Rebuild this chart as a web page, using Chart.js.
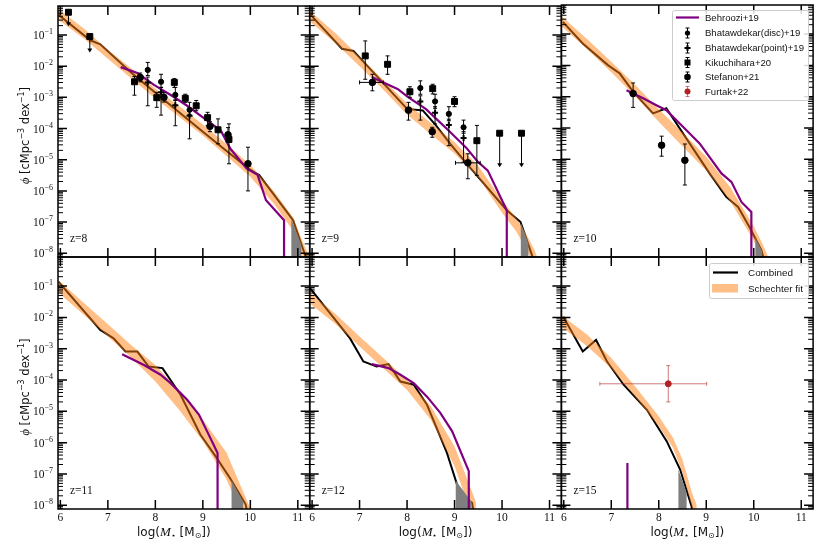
<!DOCTYPE html>
<html>
<head>
<meta charset="utf-8">
<script src="https://cdn.jsdelivr.net/npm/chart.js@4.4.1/dist/chart.umd.min.js"></script>
<style>
  html, body { margin: 0; padding: 0; background: #fff; }
  #wrap { position: relative; width: 822px; height: 548px; overflow: hidden; }
  #wrap canvas { position: absolute; left: 0; top: 0; }
</style>
</head>
<body>
<div id="wrap"></div>
<script>
/* stellar mass functions, z = 8 ... 15 — six panels, values as log10(phi) */

const X_TICKS = [6, 7, 8, 9, 10, 11];
const Y_EXPS = [-1, -2, -3, -4, -5, -6, -7, -8];
const Z_LABELS = ['z=8', 'z=9', 'z=10', 'z=11', 'z=12', 'z=15'];

// Combined: [logM, log phi]
const comb8 = [[5.96,-0.35],[6.63,-1.17],[6.84,-1.3],[7.5,-2.22],[8.0,-2.85],[8.5,-3.48],[9.0,-4.1],[9.5,-4.72],[9.98,-5.3],[10.19,-5.5],[10.9,-6.94],[11.14,-8.0],[11.25,-8.5]];
const comb9 = [[5.96,-0.34],[6.63,-1.44],[6.87,-1.51],[7.29,-2.2],[8.0,-3.37],[8.33,-3.42],[8.6,-3.88],[8.91,-4.49],[9.26,-5.13],[10.1,-6.62],[10.39,-7.0],[10.63,-8.06],[10.7,-8.4]];
const comb10 = [[5.98,-0.61],[6.4,-1.3],[6.93,-1.99],[7.18,-2.26],[7.46,-2.84],[7.88,-3.53],[8.16,-3.37],[8.51,-4.17],[9.07,-5.45],[9.42,-6.2],[9.67,-6.52],[9.91,-7.16],[10.16,-7.9],[10.25,-8.4]];
const comb11 = [[5.96,-0.86],[6.84,-2.4],[7.12,-2.67],[7.37,-3.09],[7.62,-3.09],[7.86,-3.57],[8.15,-3.62],[8.53,-4.47],[8.95,-5.75],[9.27,-6.44],[9.59,-7.18],[9.9,-7.97],[9.95,-8.3]];
const comb12 = [[5.96,-1.07],[6.8,-2.67],[7.08,-3.41],[7.36,-3.57],[7.61,-3.49],[7.86,-4.05],[8.14,-4.15],[8.42,-4.79],[8.84,-6.33],[9.12,-7.66],[9.37,-7.92],[9.42,-8.4]];
const comb15 = [[5.99,-1.98],[6.4,-3.09],[6.68,-2.72],[6.91,-3.41],[7.26,-4.15],[7.75,-4.95],[8.17,-5.96],[8.45,-6.86],[8.69,-8.03],[8.72,-8.3]];

// Schechter fit band: [logM, lower, upper]
const sch8 = [[5.95,-0.5,-0.16],[6.5,-1.12,-0.8],[7,-1.76,-1.47],[7.5,-2.4,-2.08],[8,-3.04,-2.72],[8.5,-3.62,-3.28],[9,-4.22,-3.87],[9.5,-4.88,-4.5],[10,-5.55,-5.17],[10.5,-6.42,-6.02],[10.9,-7.28,-6.85],[11.1,-8.1,-7.62],[11.3,-8.9,-8.3]];
const sch9 = [[5.95,-0.56,-0.22],[6.5,-1.27,-0.95],[7,-2.0,-1.7],[7.5,-2.76,-2.44],[8,-3.55,-3.2],[8.5,-4.18,-3.82],[9,-4.8,-4.44],[9.5,-5.57,-5.2],[10,-6.7,-6.3],[10.3,-7.3,-6.88],[10.5,-7.85,-7.35],[10.7,-8.5,-7.95],[10.8,-9,-8.4]];
const sch10 = [[5.95,-0.74,-0.42],[6.5,-1.49,-1.17],[7,-2.22,-1.88],[7.5,-2.98,-2.62],[8,-3.8,-3.4],[8.5,-4.58,-4.14],[9,-5.36,-4.92],[9.5,-6.32,-5.88],[10,-7.6,-7.14],[10.2,-8.25,-7.75],[10.3,-8.7,-8.1]];
const sch11 = [[5.95,-1.2,-0.8],[6.5,-1.92,-1.55],[7,-2.6,-2.22],[7.5,-3.3,-2.9],[8,-4.05,-3.52],[8.5,-4.95,-4.35],[9,-5.95,-5.27],[9.5,-7.18,-6.32],[9.9,-8.6,-7.75],[10,-9,-8.1]];
const sch12 = [[5.95,-1.55,-1.2],[6.5,-2.22,-1.9],[7,-2.93,-2.61],[7.5,-3.62,-3.3],[8,-4.32,-4.0],[8.5,-5.27,-4.84],[9,-6.75,-6.12],[9.3,-8.04,-7.3],[9.45,-8.9,-7.9]];
const sch15 = [[5.95,-2.3,-1.92],[6.5,-2.93,-2.56],[7,-3.62,-3.3],[7.5,-4.53,-4.2],[8,-5.48,-5.16],[8.3,-6.16,-5.84],[8.5,-6.96,-6.54],[8.7,-8.07,-7.6],[8.8,-8.7,-8.0]];

// Behroozi+19
const beh8 = [[7.27,-2.03],[7.62,-2.22],[7.97,-2.6],[8.35,-2.95],[8.67,-3.27],[9.05,-3.7],[9.38,-4.07],[9.58,-4.65],[9.92,-5.28],[10.15,-5.48],[10.33,-6.3],[10.71,-6.94],[10.71,-12]];
const beh9 = [[7.26,-2.35],[7.5,-2.52],[7.8,-2.73],[8.03,-3.0],[8.4,-3.38],[8.88,-4.07],[9.25,-4.62],[9.48,-5.05],[9.7,-5.35],[10.1,-6.62],[10.1,-12]];
const beh10 = [[7.32,-2.79],[7.67,-3.05],[7.95,-3.27],[8.16,-3.43],[8.51,-3.96],[8.86,-4.49],[9.32,-5.45],[9.53,-5.72],[9.74,-6.36],[9.95,-6.68],[9.95,-12]];
const beh11 = [[7.3,-3.18],[7.76,-3.52],[8.11,-3.83],[8.32,-4.1],[8.67,-4.63],[8.92,-5.11],[9.09,-5.64],[9.31,-6.33],[9.31,-12]];
const beh12 = [[7.26,-3.49],[7.61,-3.62],[7.86,-3.83],[8.14,-4.1],[8.42,-4.53],[8.7,-5.05],[8.95,-5.64],[9.3,-6.91],[9.3,-12]];
const beh15 = [[7.34,-6.65],[7.34,-12]];

// grey tail of the combined estimate
const grey8 = [[10.86,-6.9],[11.08,-7.75]];
const grey9 = [[10.39,-7.0],[10.56,-7.7]];
const grey10 = [[10.03,-7.5],[10.18,-7.95]];
const grey11 = [[9.6,-7.2],[9.85,-7.9]];
const grey12 = [[9.02,-7.2],[9.36,-7.9]];
const grey15 = [[8.41,-6.85],[8.59,-7.6]];

// observations: [logM, log phi, err lo, err hi, (x lo, x hi)]
const kik8 = [[7.56,-2.5,-2.93,-2.33],[8.03,-3.01,-3.32,-2.84],[8.4,-2.52,-2.68,-2.4],[8.63,-3.03,-3.16,-2.9],[8.86,-3.27,-3.43,-3.1],[9.1,-3.65,-3.91,-3.48],[9.32,-4.04,-4.49,-3.69],[9.55,-4.35,-5.13,-3.85]];
const kikUL8 = [[6.17,-0.27,-0.72],[6.62,-1.05,-1.56]];
const ste8 = [[7.68,-2.36,-2.5,-2.22],[8.18,-3.0,-3.15,-2.85],[9.15,-3.93,-4.1,-3.78],[9.53,-4.2,-4.45,-3.97],[9.95,-5.13,-6.0,-4.6]];
const bhD8 = [[7.84,-2.12,-2.3,-1.88],[8.12,-2.5,-2.68,-2.26],[8.42,-2.92,-3.1,-2.68],[8.72,-3.4,-3.55,-3.16]];
const bhP8 = [[7.84,-2.52,-3.27,-2.35],[8.12,-2.84,-3.57,-2.68],[8.42,-3.25,-3.91,-3.08],[8.72,-3.59,-4.33,-3.45]];

const kik9 = [[7.12,-1.67,-2.42,-1.19],[7.59,-1.94,-2.26,-1.67],[8.06,-2.82,-3.0,-2.66],[8.54,-2.72,-2.89,-2.58],[9.0,-3.13,-3.3,-2.98],[9.47,-4.39,-5.5,-3.9]];
const kikUL9 = [[9.95,-4.15,-5.24],[10.41,-4.15,-5.24]];
const ste9 = [[7.27,-2.52,-2.79,-2.26,7.0,7.5],[8.03,-3.41,-3.73,-3.16],[8.53,-4.1,-4.28,-3.96],[9.28,-5.1,-5.61,-4.81,9.02,9.54]];
const bhD9 = [[8.28,-2.7,-2.9,-2.47],[8.59,-3.13,-3.35,-2.9],[8.88,-3.53,-3.75,-3.3],[9.19,-3.96,-4.15,-3.73]];
const bhP9 = [[8.28,-3.13,-3.73,-2.95],[8.59,-3.49,-3.85,-3.3],[8.88,-3.89,-4.55,-3.7],[9.19,-4.3,-5.08,-4.1]];

const ste10 = [[7.46,-2.9,-3.34,-2.56],[8.06,-4.55,-4.9,-4.26],[8.55,-5.03,-5.82,-4.51]];
const fur15 = [[8.2,-4.12,-4.7,-3.54,6.76,9.01]];

const LEGEND_OBS = ['Behroozi+19', 'Bhatawdekar(disc)+19', 'Bhatawdekar(point)+19', 'Kikuchihara+20', 'Stefanon+21', 'Furtak+22'];
const LEGEND_FIT = ['Combined', 'Schechter fit'];

const X_MIN = 5.95, X_MAX = 11.25;
const Y_MIN = Math.pow(10, -8.12), Y_MAX = Math.pow(10, -0.07);
const W = 822, H = 548, P_LEFT = 58, P_TOP = 5, PW = 251.7, PH = 252;

const PURPLE = '#800080';
const ORANGE = 'rgba(255,127,14,0.5)';
const FURTAK = '#b22222';
const SERIF = '"Liberation Serif", "DejaVu Serif", serif';
const SANS = '"DejaVu Sans", "Liberation Sans", sans-serif';
const LEG_FONT = '"Liberation Sans", sans-serif';

const pts = (arr) => arr.map((r) => ({ x: r[0], y: Math.pow(10, r[1]) }));

function pointSet(arr, style, extra) {
  return Object.assign({
    data: pts(arr),
    err: arr.map((r) => r.slice(2)),
    showLine: false,
    pointStyle: style,
    pointRadius: 3.2,
    pointBackgroundColor: '#000',
    pointBorderColor: '#000',
    pointBorderWidth: 1,
    order: 1,
  }, extra || {});
}

function limitSet(arr) {
  return {
    data: pts(arr),
    lim: arr.map((r) => r[2]),
    showLine: false,
    pointStyle: 'rect',
    pointRadius: 4.2,
    pointBackgroundColor: '#000',
    pointBorderColor: '#000',
    order: 1,
  };
}

function baseSets(comb, sch, beh, grey) {
  return [
    { data: pts(comb), borderColor: '#000', borderWidth: 2, pointRadius: 0, fill: false, order: 10 },
    { data: sch.map((r) => ({ x: r[0], y: Math.pow(10, r[2]) })), borderWidth: 0, pointRadius: 0, fill: false, order: 9 },
    { data: sch.map((r) => ({ x: r[0], y: Math.pow(10, r[1]) })), borderWidth: 0, pointRadius: 0, fill: '-1', backgroundColor: ORANGE, order: 8 },
    { data: pts(grey), borderWidth: 0, pointRadius: 0, fill: 'start', backgroundColor: '#7f7f7f', order: 7 },
    { data: pts(beh), borderColor: PURPLE, borderWidth: 2.2, pointRadius: 0, fill: false, order: 6 },
  ];
}

const PANELS = [
  baseSets(comb8, sch8, beh8, grey8).concat([
    pointSet(kik8, 'rect', { pointRadius: 4.2 }), limitSet(kikUL8),
    pointSet(ste8, 'circle', { pointRadius: 3.3 }),
    pointSet(bhD8, 'circle', { pointRadius: 2.6 }),
    pointSet(bhP8, 'cross', { pointRadius: 3, pointBorderWidth: 2 }),
  ]),
  baseSets(comb9, sch9, beh9, grey9).concat([
    pointSet(kik9, 'rect', { pointRadius: 4.2 }), limitSet(kikUL9),
    pointSet(ste9, 'circle', { pointRadius: 3.3 }),
    pointSet(bhD9, 'circle', { pointRadius: 2.6 }),
    pointSet(bhP9, 'cross', { pointRadius: 3, pointBorderWidth: 2 }),
  ]),
  baseSets(comb10, sch10, beh10, grey10).concat([
    pointSet(ste10, 'circle', { pointRadius: 3.3 }),
  ]),
  baseSets(comb11, sch11, beh11, grey11),
  baseSets(comb12, sch12, beh12, grey12),
  baseSets(comb15, sch15, beh15, grey15).concat([
    pointSet(fur15, 'circle', { pointRadius: 3, pointBackgroundColor: FURTAK, pointBorderColor: FURTAK, errColor: 'rgba(178,34,34,0.6)' }),
  ]),
];

// draw a run of text pieces [{t, font, dy}] starting at x
function richWidth(ctx, parts) {
  let w = 0;
  parts.forEach((p) => { ctx.font = p.font; w += ctx.measureText(p.t).width; });
  return w;
}
function drawRich(ctx, parts, x, y) {
  let cx = x;
  parts.forEach((p) => {
    ctx.font = p.font;
    ctx.fillText(p.t, cx, y + (p.dy || 0));
    cx += ctx.measureText(p.t).width;
  });
}

const YLABEL = [
  { t: '\u03D5', font: 'italic 12.5px ' + SERIF },
  { t: ' [cMpc', font: '11.5px ' + SANS },
  { t: '\u22123', font: '8px ' + SANS, dy: -5 },
  { t: ' dex', font: '11.5px ' + SANS },
  { t: '\u22121', font: '8px ' + SANS, dy: -5 },
  { t: ']', font: '11.5px ' + SANS },
];
const XLABEL = [
  { t: 'log(', font: '12px ' + SANS },
  { t: 'M', font: 'italic 13px ' + SERIF },
  { t: '\u22C6', font: '8px ' + SERIF, dy: 2 },
  { t: ' [M', font: '12px ' + SANS },
  { t: '\u2299', font: '8px ' + SANS, dy: 2 },
  { t: '])', font: '12px ' + SANS },
];

function errorBars(chart, ds) {
  const { ctx, chartArea: a, scales: { x, y } } = chart;
  ctx.save();
  ctx.beginPath();
  ctx.rect(a.left, a.top, a.right - a.left, a.bottom - a.top);
  ctx.clip();
  ctx.strokeStyle = ds.errColor || '#000';
  ctx.fillStyle = ds.errColor || '#000';
  ctx.lineWidth = 1;
  ds.data.forEach((p, i) => {
    const px = x.getPixelForValue(p.x), py = y.getPixelForValue(p.y);
    ctx.beginPath();
    if (ds.err && ds.err[i].length >= 2) {
      const e = ds.err[i];
      const y0 = y.getPixelForValue(Math.pow(10, e[0])), y1 = y.getPixelForValue(Math.pow(10, e[1]));
      ctx.moveTo(px, y0); ctx.lineTo(px, y1);
      ctx.moveTo(px - 2, y0); ctx.lineTo(px + 2, y0);
      ctx.moveTo(px - 2, y1); ctx.lineTo(px + 2, y1);
      if (e.length >= 4) {
        const x0 = x.getPixelForValue(e[2]), x1 = x.getPixelForValue(e[3]);
        ctx.moveTo(x0, py); ctx.lineTo(x1, py);
        ctx.moveTo(x0, py - 2); ctx.lineTo(x0, py + 2);
        ctx.moveTo(x1, py - 2); ctx.lineTo(x1, py + 2);
      }
      ctx.stroke();
    }
    if (ds.lim) {
      const ye = y.getPixelForValue(Math.pow(10, ds.lim[i]));
      ctx.moveTo(px, py); ctx.lineTo(px, ye - 3);
      ctx.stroke();
      ctx.beginPath();
      ctx.moveTo(px - 2.5, ye - 4); ctx.lineTo(px + 2.5, ye - 4); ctx.lineTo(px, ye);
      ctx.closePath(); ctx.fill();
    }
  });
  ctx.restore();
}

function drawFrame(chart, opts) {
  const { ctx, chartArea: a, scales: { x, y } } = chart;
  ctx.save();
  ctx.strokeStyle = '#000';
  ctx.lineWidth = 1.5;
  ctx.beginPath();
  X_TICKS.forEach((v) => {
    const px = x.getPixelForValue(v);
    ctx.moveTo(px, a.top); ctx.lineTo(px, a.top + 9);
    ctx.moveTo(px, a.bottom); ctx.lineTo(px, a.bottom - 9);
  });
  Y_EXPS.forEach((e) => {
    const py = y.getPixelForValue(Math.pow(10, e));
    ctx.moveTo(a.left, py); ctx.lineTo(a.left + 9, py);
    ctx.moveTo(a.right, py); ctx.lineTo(a.right - 9, py);
  });
  ctx.stroke();
  ctx.lineWidth = 1;
  ctx.beginPath();
  for (let e = -9; e <= 0; e++) {
    for (let k = 2; k <= 9; k++) {
      const v = k * Math.pow(10, e);
      if (v < Y_MIN || v > Y_MAX) continue;
      const py = y.getPixelForValue(v);
      ctx.moveTo(a.left, py); ctx.lineTo(a.left + 5, py);
      ctx.moveTo(a.right, py); ctx.lineTo(a.right - 5, py);
    }
  }
  ctx.stroke();
  ctx.lineWidth = 1.5;
  ctx.strokeRect(a.left, a.top, a.right - a.left, a.bottom - a.top);

  ctx.fillStyle = '#111';
  ctx.textBaseline = 'alphabetic';
  ctx.textAlign = 'left';
  ctx.font = '11.5px ' + SERIF;
  ctx.fillText(opts.zlabel, a.left + 12, a.bottom - 15);

  if (opts.col === 0) {
    Y_EXPS.forEach((e) => {
      const py = y.getPixelForValue(Math.pow(10, e));
      const sup = '\u2212' + Math.abs(e);
      ctx.font = '8px ' + SERIF;
      const w2 = ctx.measureText(sup).width;
      ctx.font = '11.5px ' + SERIF;
      const w1 = ctx.measureText('10').width;
      const xr = a.left - 5;
      ctx.fillText('10', xr - w2 - w1, py + 4);
      ctx.font = '8px ' + SERIF;
      ctx.fillText(sup, xr - w2, py - 1);
    });
    ctx.save();
    ctx.translate(25, (a.top + a.bottom) / 2 + 4);
    ctx.rotate(-Math.PI / 2);
    drawRich(ctx, YLABEL, -richWidth(ctx, YLABEL) / 2, 4);
    ctx.restore();
  }
  if (opts.row === 1) {
    ctx.textAlign = 'center';
    ctx.font = '11.5px ' + SERIF;
    X_TICKS.forEach((v) => {
      ctx.fillText(String(v), x.getPixelForValue(v), a.bottom + 12);
    });
    ctx.textAlign = 'left';
    const cx = opts.col === 0 ? (a.left + a.right) / 2 - 10 : (a.left + a.right) / 2;
    drawRich(ctx, XLABEL, cx - richWidth(ctx, XLABEL) / 2, a.bottom + 27);
  }
  ctx.restore();
}

function legendBox(ctx, x0, y0, x1, y1) {
  ctx.save();
  ctx.fillStyle = 'rgba(255,255,255,0.85)';
  ctx.strokeStyle = '#cccccc';
  ctx.lineWidth = 1;
  ctx.beginPath();
  ctx.roundRect(x0 + 0.5, y0 + 0.5, x1 - x0, y1 - y0, 2);
  ctx.fill();
  ctx.stroke();
  ctx.restore();
}

function markerAt(ctx, style, mx, my, color, errColor) {
  ctx.strokeStyle = errColor || color;
  ctx.lineWidth = 1;
  ctx.beginPath();
  ctx.moveTo(mx, my - 5); ctx.lineTo(mx, my + 5);
  ctx.moveTo(mx - 2, my - 5); ctx.lineTo(mx + 2, my - 5);
  ctx.moveTo(mx - 2, my + 5); ctx.lineTo(mx + 2, my + 5);
  ctx.stroke();
  ctx.fillStyle = color;
  ctx.strokeStyle = color;
  ctx.beginPath();
  if (style === 'rect') {
    ctx.rect(mx - 3, my - 3, 6, 6);
    ctx.fill();
  } else if (style === 'cross') {
    ctx.lineWidth = 2;
    ctx.moveTo(mx - 3, my); ctx.lineTo(mx + 3, my);
    ctx.moveTo(mx, my - 3); ctx.lineTo(mx, my + 3);
    ctx.stroke();
  } else {
    ctx.arc(mx, my, style, 0, Math.PI * 2);
    ctx.fill();
  }
}

// font size at which `text` is `target` px wide
function fitSize(ctx, text, target) {
  ctx.font = '10px ' + LEG_FONT;
  return Math.min(10.5, 10 * target / ctx.measureText(text).width);
}

function drawLegends(chart, opts) {
  const ctx = chart.ctx;
  ctx.save();
  ctx.textBaseline = 'middle';
  ctx.textAlign = 'left';
  if (opts.legend === 'obs') {
    legendBox(ctx, 672, 10, 808, 100);
    const ys = [17.5, 33, 48, 62.5, 77, 91.5];
    ctx.strokeStyle = PURPLE;
    ctx.lineWidth = 2.2;
    ctx.beginPath(); ctx.moveTo(676, ys[0]); ctx.lineTo(699, ys[0]); ctx.stroke();
    markerAt(ctx, 2.6, 687.5, ys[1], '#000');
    markerAt(ctx, 'cross', 687.5, ys[2], '#000');
    markerAt(ctx, 'rect', 687.5, ys[3], '#000');
    markerAt(ctx, 3.3, 687.5, ys[4], '#000');
    markerAt(ctx, 3, 687.5, ys[5], FURTAK, 'rgba(178,34,34,0.6)');
    const size = fitSize(ctx, LEGEND_OBS[2], 99);
    ctx.fillStyle = '#111';
    ctx.font = size.toFixed(2) + 'px ' + LEG_FONT;
    LEGEND_OBS.forEach((t, i) => ctx.fillText(t, 705, ys[i] + 0.5));
  }
  if (opts.legend === 'fit') {
    legendBox(ctx, 709, 263, 808, 298);
    ctx.strokeStyle = '#000';
    ctx.lineWidth = 2.2;
    ctx.beginPath(); ctx.moveTo(713, 272.5); ctx.lineTo(738, 272.5); ctx.stroke();
    ctx.fillStyle = ORANGE;
    ctx.fillRect(712, 284, 26, 8.5);
    const size = fitSize(ctx, LEGEND_FIT[1], 55);
    ctx.fillStyle = '#111';
    ctx.font = size.toFixed(2) + 'px ' + LEG_FONT;
    LEGEND_FIT.forEach((t, i) => ctx.fillText(t, 748, [272.5, 288.5][i] + 0.5));
  }
  ctx.restore();
}

const panelDeco = {
  id: 'panelDeco',
  beforeDatasetDraw(chart, args) {
    const ds = chart.data.datasets[args.index];
    if (ds.err || ds.lim) errorBars(chart, ds);
  },
  afterDraw(chart, args, opts) {
    drawFrame(chart, opts);
    drawLegends(chart, opts);
  },
};

const wrap = document.getElementById('wrap');
PANELS.forEach((datasets, i) => {
  const col = i % 3, row = Math.floor(i / 3);
  const L = P_LEFT + col * PW, T = P_TOP + row * PH;
  const canvas = document.createElement('canvas');
  canvas.width = W; canvas.height = H;
  wrap.appendChild(canvas);
  new Chart(canvas, {
    type: 'line',
    data: { datasets },
    options: {
      responsive: false,
      animation: false,
      events: [],
      layout: { padding: { left: L, top: T, right: W - L - PW, bottom: H - T - PH } },
      elements: { line: { tension: 0 } },
      scales: {
        x: { type: 'linear', min: X_MIN, max: X_MAX, display: false },
        y: { type: 'logarithmic', min: Y_MIN, max: Y_MAX, display: false },
      },
      plugins: {
        legend: { display: false },
        tooltip: { enabled: false },
        panelDeco: { zlabel: Z_LABELS[i], col, row, legend: i === 2 ? 'obs' : (i === 5 ? 'fit' : null) },
      },
    },
    plugins: [panelDeco],
  });
});
</script>
</body>
</html>
